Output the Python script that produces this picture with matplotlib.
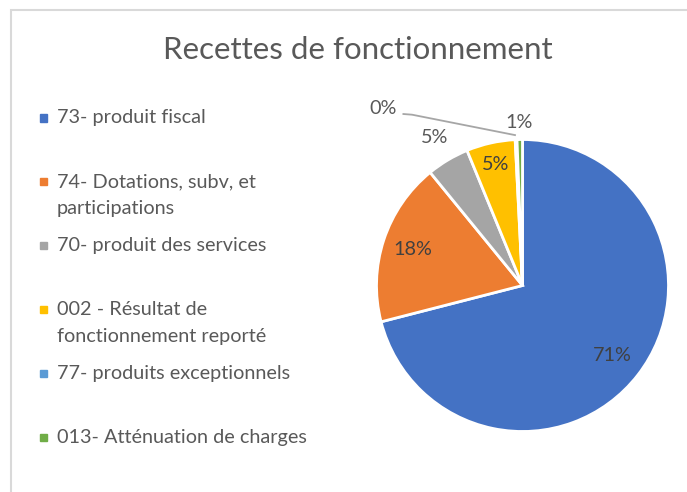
import numpy as np
import matplotlib.pyplot as plt
from matplotlib.patches import Rectangle

plt.rcParams['font.family'] = ['Lato', 'DejaVu Sans']

# data
labels = ['73- produit fiscal',
          '74- Dotations, subv, et\nparticipations',
          '70- produit des services',
          '002 - Résultat de\nfonctionnement reporté',
          '77- produits exceptionnels',
          '013- Atténuation de charges']
values = [71.0, 18.1, 4.7, 5.4, 0.2, 0.6]
colors = ['#4472C4', '#ED7D31', '#A5A5A5', '#FFC000', '#5B9BD5', '#70AD47']

# label placement (fraction of radius along the slice mid angle)
label_dist = [0.78, 0.79, 1.18, 0.85, None, 1.12]

W, H = 687, 492
fig = plt.figure(figsize=(W / 100, H / 100), dpi=100)

# light grey chart frame (cut off at right/bottom like the screenshot)
fig.patches.append(Rectangle((11 / W, -0.1), 1.2, 1 - 9.5 / H + 0.1,
                             transform=fig.transFigure, fill=False,
                             edgecolor='#D9D9D9', linewidth=1.5))

txt = '#595959'
fig.text(358 / W, 1 - 50 / H, 'Recettes de fonctionnement', ha='center',
         va='center', fontsize=22.5, color=txt)

# pie: centre (522.5, 285.5) px, radius 145 px
R = 146
box = 460
ax = fig.add_axes([(522.5 - box / 2) / W, (H - 285.5 - box / 2) / H, box / W, box / H])
wedges, _ = ax.pie(values, colors=colors, startangle=90, counterclock=False,
                   wedgeprops=dict(edgecolor='white', linewidth=2))
lim = box / 2 / R
ax.set_xlim(-lim, lim)
ax.set_ylim(-lim, lim)
ax.set_aspect('equal')
ax.axis('off')

for w, v, d in zip(wedges, values, label_dist):
    mid = np.deg2rad((w.theta1 + w.theta2) / 2)
    pct = '%d%%' % round(v)
    if d is None:
        # tiny slice: label pulled out with a leader line
        lx, ly = -0.957, 1.21
        ax.text(lx, ly, pct, ha='center', va='center', fontsize=14.3, color=txt)
        ex, ey = 1.03 * np.cos(mid), 1.03 * np.sin(mid)
        ax.plot([lx + 0.135, lx + 0.2, ex], [ly - 0.035, ly - 0.04, ey],
                color='#A6A6A6', linewidth=1.3, solid_capstyle='butt')
        continue
    c = '#404040' if d < 1 else txt
    ax.text(d * np.cos(mid), d * np.sin(mid), pct, ha='center', va='center',
            fontsize=14.3, color=c)

# legend, drawn Excel style with evenly spaced entries
for i, (lab, col) in enumerate(zip(labels, colors)):
    y0 = 118 + 63.8 * i
    fig.patches.append(Rectangle((40 / W, 1 - (y0 + 3.5) / H), 7 / W, 7 / H,
                                 transform=fig.transFigure, color=col))
    for j, line in enumerate(lab.split('\n')):
        fig.text(57 / W, 1 - (y0 + 27 * j) / H, line, ha='left',
                 va='center', fontsize=14.3, color=txt)

fig.savefig('out.png', dpi=100)
